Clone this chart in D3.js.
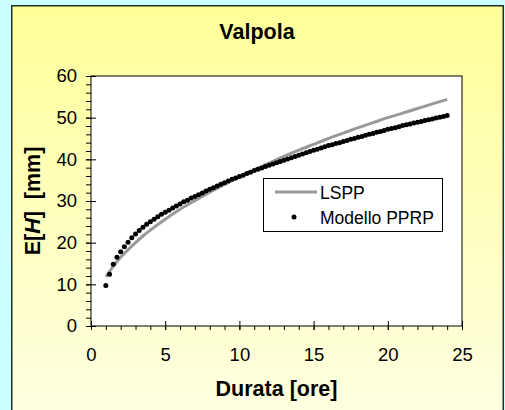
<!DOCTYPE html>
<html>
<head>
<meta charset="utf-8">
<script src="https://cdn.jsdelivr.net/npm/d3@7"></script>
<style>
  html, body { margin: 0; padding: 0; background: #ccffff; }
  svg { display: block; font-family: Arial, "Liberation Sans", sans-serif; }
</style>
</head>
<body>
<svg id="chart" width="505" height="410"></svg>
<script>
// Durata (ore) at which the LSPP curve is drawn, and its depths (mm)
const lsppHours  = [1, 1.5, 2, 2.5, 3, 3.5, 4, 5, 6, 7, 8, 9, 10, 11, 12, 13, 14, 15, 16, 17, 18, 19, 20, 21, 22, 23, 24];
const lsppValues = [11.8, 14.3, 16.5, 18.3, 20.0, 21.6, 23.0, 25.6, 28.0, 30.1, 32.1, 34.0, 35.8, 37.5, 39.1, 40.7, 42.2, 43.6, 45.0, 46.3, 47.6, 48.8, 50.0, 51.1, 52.2, 53.3, 54.4];

// Modello PPRP: expected depth every quarter hour from 1 to 24 ore
const pprpHours = [
  1.00, 1.25, 1.50, 1.75, 2.00, 2.25, 2.50, 2.75, 3.00, 3.25, 3.50, 3.75,
  4.00, 4.25, 4.50, 4.75, 5.00, 5.25, 5.50, 5.75, 6.00, 6.25, 6.50, 6.75,
  7.00, 7.25, 7.50, 7.75, 8.00, 8.25, 8.50, 8.75, 9.00, 9.25, 9.50, 9.75,
  10.00, 10.25, 10.50, 10.75, 11.00, 11.25, 11.50, 11.75, 12.00, 12.25, 12.50, 12.75,
  13.00, 13.25, 13.50, 13.75, 14.00, 14.25, 14.50, 14.75, 15.00, 15.25, 15.50, 15.75,
  16.00, 16.25, 16.50, 16.75, 17.00, 17.25, 17.50, 17.75, 18.00, 18.25, 18.50, 18.75,
  19.00, 19.25, 19.50, 19.75, 20.00, 20.25, 20.50, 20.75, 21.00, 21.25, 21.50, 21.75,
  22.00, 22.25, 22.50, 22.75, 23.00, 23.25, 23.50, 23.75, 24.00
];
const pprpValues = [
  9.7, 12.4, 14.8, 16.5, 17.8, 19.0, 20.1, 21.2, 22.1, 22.9, 23.7, 24.4,
  25.0, 25.6, 26.2, 26.8, 27.3, 27.8, 28.3, 28.8, 29.3, 29.8, 30.2, 30.7,
  31.1, 31.5, 31.9, 32.4, 32.8, 33.2, 33.6, 34.0, 34.4, 34.8, 35.2, 35.5,
  35.9, 36.2, 36.6, 36.9, 37.3, 37.6, 37.9, 38.3, 38.6, 38.9, 39.2, 39.5,
  39.8, 40.1, 40.4, 40.7, 41.0, 41.3, 41.6, 41.9, 42.2, 42.4, 42.7, 43.0,
  43.3, 43.5, 43.8, 44.0, 44.3, 44.5, 44.8, 45.0, 45.3, 45.5, 45.8, 46.0,
  46.2, 46.5, 46.7, 46.9, 47.2, 47.4, 47.6, 47.8, 48.1, 48.3, 48.5, 48.7,
  48.9, 49.1, 49.3, 49.5, 49.7, 49.9, 50.1, 50.3, 50.5
];

// Axis ticks
const xMajorTicks = [0, 5, 10, 15, 20, 25];
const xMinorTicks = d3.range(0, 26, 1);
const yMajorTicks = [0, 10, 20, 30, 40, 50, 60];
const yMinorTicks = d3.range(0, 61, 2);

const svg = d3.select("#chart");

// Panel with a vertical yellow gradient
const defs = svg.append("defs");
const grad = defs.append("linearGradient")
  .attr("id", "panelFill").attr("x1", 0).attr("y1", 0).attr("x2", 0).attr("y2", 1);
grad.append("stop").attr("offset", "0%").attr("stop-color", "#ffff99");
grad.append("stop").attr("offset", "100%").attr("stop-color", "#ffffe4");

svg.append("rect")
  .attr("x", 11.75).attr("y", 5.75)
  .attr("width", 491.5).attr("height", 420)
  .attr("fill", "url(#panelFill)")
  .attr("stroke", "#2a2a2a").attr("stroke-width", 1.5);

const plot = { left: 91, right: 462, top: 76, bottom: 326 };

const x = d3.scaleLinear().domain([0, 25]).range([plot.left, plot.right]);
const y = d3.scaleLinear().domain([0, 60]).range([plot.bottom, plot.top]);

// Plot area
svg.append("rect")
  .attr("x", plot.left).attr("y", plot.top)
  .attr("width", plot.right - plot.left).attr("height", plot.bottom - plot.top)
  .attr("fill", "#ffffff").attr("stroke", "none");

// Title
svg.append("text")
  .attr("x", 257).attr("y", 39)
  .attr("text-anchor", "middle")
  .attr("font-size", "21.5px").attr("font-weight", "bold")
  .text("Valpola");

// X axis: minor ticks outside, major ticks crossing the axis
const xMinor = svg.append("g")
  .attr("transform", `translate(0,${plot.bottom})`)
  .call(d3.axisBottom(x).tickValues(xMinorTicks).tickSize(4).tickFormat(""));
xMinor.select(".domain").remove();

const xMajor = svg.append("g")
  .attr("transform", `translate(0,${plot.bottom})`)
  .call(d3.axisBottom(x).tickValues(xMajorTicks).tickSize(4).tickPadding(18).tickFormat(d3.format("d")));
xMajor.select(".domain").remove();
xMajor.selectAll(".tick line").attr("y1", -5);
xMajor.selectAll(".tick text")
  .attr("font-size", "18.5px").attr("font-family", "Arial, 'Liberation Sans', sans-serif")
  .attr("fill", "#000");

// Y axis
const yMinor = svg.append("g")
  .attr("transform", `translate(${plot.left},0)`)
  .call(d3.axisLeft(y).tickValues(yMinorTicks).tickSize(5).tickFormat(""));
yMinor.select(".domain").remove();

const yMajor = svg.append("g")
  .attr("transform", `translate(${plot.left},0)`)
  .call(d3.axisLeft(y).tickValues(yMajorTicks).tickSize(5).tickPadding(9).tickFormat(d3.format("d")));
yMajor.select(".domain").remove();
yMajor.selectAll(".tick line").attr("x1", 5);
yMajor.selectAll(".tick text")
  .attr("font-size", "18.5px").attr("font-family", "Arial, 'Liberation Sans', sans-serif")
  .attr("fill", "#000");

svg.selectAll(".tick line").attr("stroke", "#000");

// Plot frame
svg.append("rect")
  .attr("x", plot.left).attr("y", plot.top)
  .attr("width", plot.right - plot.left).attr("height", plot.bottom - plot.top)
  .attr("fill", "none").attr("stroke", "#000").attr("stroke-width", 1);

// Axis titles
svg.append("text")
  .attr("x", (plot.left + plot.right) / 2).attr("y", 396)
  .attr("text-anchor", "middle")
  .attr("font-size", "21.5px").attr("font-weight", "bold")
  .text("Durata [ore]");

const yTitle = svg.append("text")
  .attr("transform", `translate(40,${(plot.top + plot.bottom) / 2}) rotate(-90)`)
  .attr("text-anchor", "middle")
  .attr("font-size", "21.5px").attr("font-weight", "bold")
  .attr("xml:space", "preserve");
yTitle.append("tspan").text("E[");
yTitle.append("tspan").attr("font-style", "italic").text("H");
yTitle.append("tspan").text("]  [mm]");

// LSPP curve
const lspp = lsppHours.map((h, i) => ({ h, v: lsppValues[i] }));
svg.append("path")
  .datum(lspp)
  .attr("fill", "none")
  .attr("stroke", "#999999")
  .attr("stroke-width", 3)
  .attr("d", d3.line().x(d => x(d.h)).y(d => y(d.v)).curve(d3.curveMonotoneX));

// Modello PPRP points
const pprp = pprpHours.map((h, i) => ({ h, v: pprpValues[i] }));
svg.append("g")
  .selectAll("circle")
  .data(pprp)
  .join("circle")
  .attr("cx", d => x(d.h))
  .attr("cy", d => y(d.v))
  .attr("r", 2.5)
  .attr("fill", "#000");

// Legend
const legend = svg.append("g");
legend.append("rect")
  .attr("x", 263.5).attr("y", 178.5).attr("width", 179).attr("height", 53)
  .attr("fill", "#ffffff").attr("stroke", "#000").attr("stroke-width", 1);
legend.append("line")
  .attr("x1", 275).attr("x2", 317).attr("y1", 192).attr("y2", 192)
  .attr("stroke", "#999999").attr("stroke-width", 3);
legend.append("text")
  .attr("x", 320).attr("y", 199)
  .attr("font-size", "17.5px")
  .text("LSPP");
legend.append("circle")
  .attr("cx", 294).attr("cy", 217).attr("r", 2.5).attr("fill", "#000");
legend.append("text")
  .attr("x", 320).attr("y", 224)
  .attr("font-size", "17.5px")
  .text("Modello PPRP");
</script>
</body>
</html>
